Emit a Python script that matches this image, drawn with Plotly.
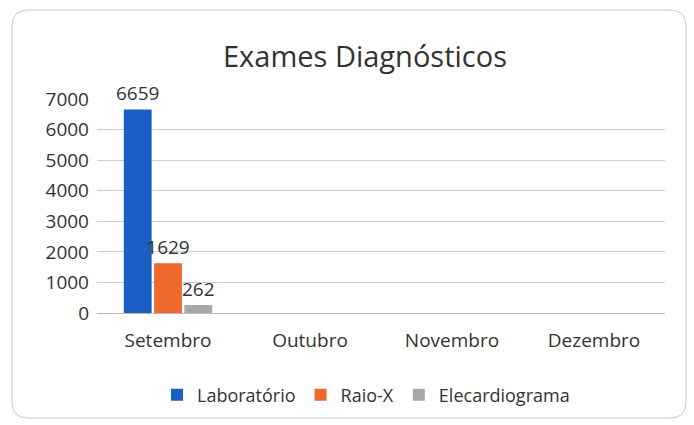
import plotly.graph_objects as go

months = ["Setembro", "Outubro", "Novembro", "Dezembro"]
laboratorio = [6659, None, None, None]
raio_x = [1629, None, None, None]
elecardiograma = [262, None, None, None]
y_ticks = [0, 1000, 2000, 3000, 4000, 5000, 6000, 7000]

font_family = "Open Sans, Liberation Sans, sans-serif"
W, H = 694, 425
L, R, T, B = 97, 29, 99, 112

fig = go.Figure()
for name, vals, color in [("Laboratório", laboratorio, "#1b5ec4"),
                          ("Raio-X", raio_x, "#f0692e"),
                          ("Elecardiograma", elecardiograma, "#a8a8a8")]:
    fig.add_trace(go.Bar(
        x=months, y=vals, name=name, marker=dict(color=color, line=dict(width=0)),
        text=[str(v) if v is not None else "" for v in vals],
        textposition="outside", cliponaxis=False, constraintext="none",
        textfont=dict(size=19, color="#333333", family=font_family),
    ))

def px(x): return (x - L) / (W - L - R)
def py(y): return (H - B - y) / (H - T - B)

fig.update_layout(
    width=W, height=H,
    paper_bgcolor="white", plot_bgcolor="white",
    margin=dict(l=L, r=R, t=T, b=B, autoexpand=False),
    barmode="group", bargap=0.36, bargroupgap=0.08,
    title=dict(text="Exames Diagnósticos", x=(365) / W, xanchor="center",
               y=1 - 57 / H, yanchor="middle",
               font=dict(size=29, color="#333333", family=font_family)),
    font=dict(family=font_family, color="#333333"),
    showlegend=True,
    legend=dict(orientation="h", x=px(366), xanchor="center", y=py(395), yanchor="middle",
                font=dict(size=18, color="#333333"), itemwidth=30, traceorder="normal"),
    xaxis=dict(showgrid=False, showline=True, linecolor="#bbbbbb", linewidth=1,
               tickfont=dict(size=19, color="#333333"), ticks="", ticklabelstandoff=10),
    yaxis=dict(range=[0, 7000], tickvals=y_ticks, showgrid=True, gridcolor="#cccccc",
               zeroline=False, showline=False, tickfont=dict(size=19, color="#333333"),
               ticklabelstandoff=7),
)

# rounded chart border
x0, x1, y0, y1, r = 12, 686, 10, 418, 16
path = (f"M {px(x0+r)} {py(y0)} L {px(x1-r)} {py(y0)} Q {px(x1)} {py(y0)} {px(x1)} {py(y0+r)} "
        f"L {px(x1)} {py(y1-r)} Q {px(x1)} {py(y1)} {px(x1-r)} {py(y1)} "
        f"L {px(x0+r)} {py(y1)} Q {px(x0)} {py(y1)} {px(x0)} {py(y1-r)} "
        f"L {px(x0)} {py(y0+r)} Q {px(x0)} {py(y0)} {px(x0+r)} {py(y0)} Z")
fig.add_shape(type="path", xref="paper", yref="paper", path=path,
              line=dict(color="#c8c8c8", width=1), fillcolor="rgba(0,0,0,0)", layer="below")

fig.write_html("out.html", config={"displayModeBar": False},
               post_script="document.body.style.margin='0';")
